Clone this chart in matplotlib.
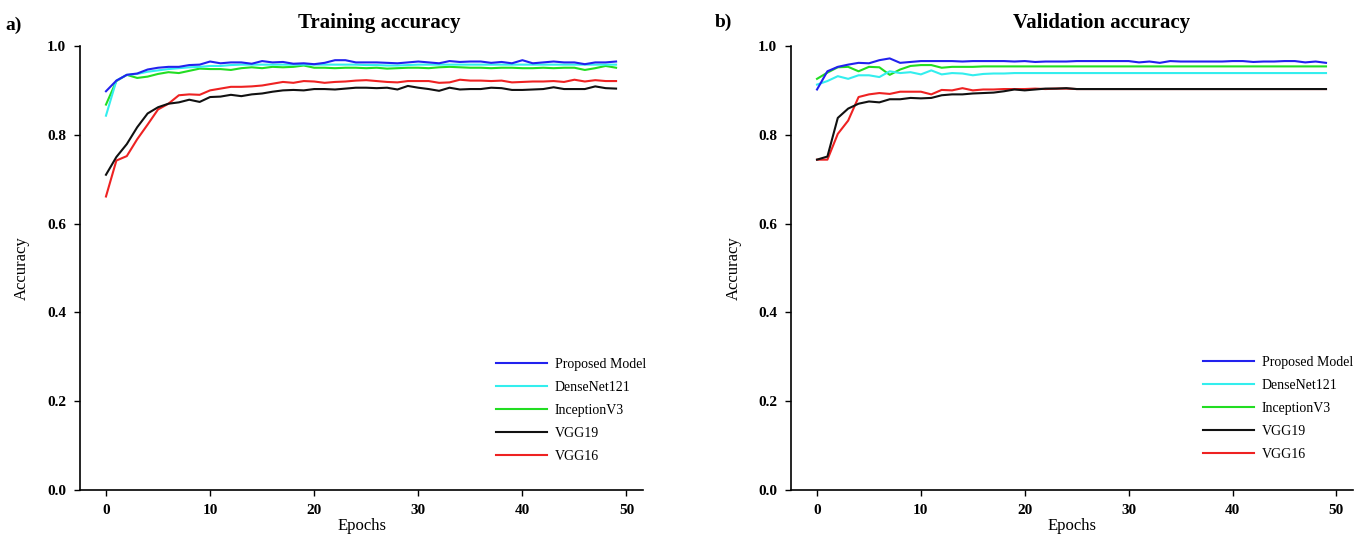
import numpy as np
import matplotlib
matplotlib.use("Agg")
import matplotlib.pyplot as plt

plt.rcParams["font.family"] = ["Liberation Serif", "DejaVu Serif"]

epochs = np.arange(50)

# ── training accuracy ────────────────────────────────────────────────────────
train_proposed = [0.898, 0.922, 0.935, 0.938, 0.947, 0.951, 0.953, 0.953, 0.957, 0.958,
                  0.965, 0.961, 0.963, 0.963, 0.960, 0.966, 0.963, 0.964, 0.960, 0.961,
                  0.959, 0.962, 0.968, 0.968, 0.963, 0.963, 0.963, 0.962, 0.961, 0.963,
                  0.965, 0.963, 0.961, 0.966, 0.964, 0.965, 0.965, 0.962, 0.964, 0.961,
                  0.968, 0.961, 0.963, 0.965, 0.963, 0.963, 0.959, 0.963, 0.963, 0.965]
train_densenet = [0.843, 0.922, 0.935, 0.937, 0.942, 0.945, 0.948, 0.950, 0.952, 0.953,
                  0.955, 0.955, 0.957, 0.958, 0.958, 0.958, 0.958, 0.958, 0.958, 0.958,
                  0.958, 0.958, 0.958, 0.958, 0.958, 0.957, 0.957, 0.956, 0.956, 0.957,
                  0.958, 0.958, 0.958, 0.958, 0.958, 0.958, 0.958, 0.958, 0.958, 0.958,
                  0.958, 0.958, 0.958, 0.958, 0.958, 0.958, 0.958, 0.958, 0.958, 0.958]
train_inception = [0.868, 0.921, 0.935, 0.928, 0.931, 0.937, 0.941, 0.939, 0.944, 0.949,
                   0.948, 0.948, 0.946, 0.950, 0.952, 0.950, 0.953, 0.952, 0.953, 0.956,
                   0.951, 0.951, 0.950, 0.951, 0.951, 0.950, 0.951, 0.949, 0.950, 0.951,
                   0.951, 0.950, 0.952, 0.953, 0.952, 0.951, 0.951, 0.950, 0.951, 0.951,
                   0.950, 0.950, 0.951, 0.950, 0.951, 0.951, 0.946, 0.950, 0.955, 0.951]
train_vgg19 = [0.710, 0.750, 0.779, 0.817, 0.848, 0.862, 0.870, 0.873, 0.879, 0.874,
               0.885, 0.886, 0.890, 0.887, 0.891, 0.893, 0.897, 0.900, 0.901, 0.900,
               0.903, 0.903, 0.902, 0.904, 0.906, 0.906, 0.905, 0.906, 0.902, 0.910,
               0.906, 0.903, 0.899, 0.906, 0.902, 0.903, 0.903, 0.906, 0.905, 0.901,
               0.901, 0.902, 0.903, 0.907, 0.903, 0.903, 0.903, 0.909, 0.905, 0.904]
train_vgg16 = [0.661, 0.742, 0.752, 0.790, 0.823, 0.857, 0.870, 0.889, 0.891, 0.890,
               0.900, 0.904, 0.908, 0.908, 0.909, 0.911, 0.915, 0.919, 0.917, 0.921,
               0.920, 0.917, 0.919, 0.920, 0.922, 0.923, 0.921, 0.919, 0.918, 0.921,
               0.921, 0.921, 0.917, 0.918, 0.924, 0.922, 0.922, 0.921, 0.922, 0.918,
               0.919, 0.920, 0.920, 0.921, 0.919, 0.924, 0.920, 0.923, 0.921, 0.921]

# ── validation accuracy ──────────────────────────────────────────────────────
val_proposed = [0.902, 0.943, 0.953, 0.958, 0.962, 0.961, 0.968, 0.972, 0.962, 0.964,
                0.966, 0.966, 0.966, 0.966, 0.965, 0.966, 0.966, 0.966, 0.966, 0.965,
                0.966, 0.964, 0.965, 0.965, 0.965, 0.966, 0.966, 0.966, 0.966, 0.966,
                0.966, 0.963, 0.965, 0.962, 0.966, 0.965, 0.965, 0.965, 0.965, 0.965,
                0.966, 0.966, 0.964, 0.965, 0.965, 0.966, 0.966, 0.963, 0.965, 0.962]
val_densenet = [0.913, 0.921, 0.932, 0.926, 0.934, 0.934, 0.930, 0.943, 0.939, 0.941,
                0.936, 0.945, 0.936, 0.939, 0.938, 0.934, 0.937, 0.938, 0.938, 0.939,
                0.939, 0.939, 0.939, 0.939, 0.939, 0.939, 0.939, 0.939, 0.939, 0.939,
                0.939, 0.939, 0.939, 0.939, 0.939, 0.939, 0.939, 0.939, 0.939, 0.939,
                0.939, 0.939, 0.939, 0.939, 0.939, 0.939, 0.939, 0.939, 0.939, 0.939]
val_inception = [0.926, 0.940, 0.952, 0.953, 0.943, 0.953, 0.952, 0.935, 0.947, 0.955,
                 0.957, 0.957, 0.951, 0.953, 0.953, 0.953, 0.954, 0.954, 0.954, 0.954,
                 0.954, 0.954, 0.954, 0.954, 0.954, 0.954, 0.954, 0.954, 0.954, 0.954,
                 0.954, 0.954, 0.954, 0.954, 0.954, 0.954, 0.954, 0.954, 0.954, 0.954,
                 0.954, 0.954, 0.954, 0.954, 0.954, 0.954, 0.954, 0.954, 0.954, 0.954]
val_vgg19 = [0.744, 0.751, 0.838, 0.859, 0.870, 0.875, 0.873, 0.880, 0.880, 0.883,
             0.882, 0.883, 0.889, 0.891, 0.891, 0.893, 0.894, 0.895, 0.898, 0.902,
             0.900, 0.902, 0.904, 0.904, 0.905, 0.903, 0.903, 0.903, 0.903, 0.903,
             0.903, 0.903, 0.903, 0.903, 0.903, 0.903, 0.903, 0.903, 0.903, 0.903,
             0.903, 0.903, 0.903, 0.903, 0.903, 0.903, 0.903, 0.903, 0.903, 0.903]
val_vgg16 = [0.744, 0.744, 0.802, 0.832, 0.885, 0.891, 0.894, 0.892, 0.897, 0.897,
             0.897, 0.891, 0.901, 0.900, 0.905, 0.900, 0.902, 0.902, 0.903, 0.903,
             0.903, 0.904, 0.903, 0.904, 0.904, 0.903, 0.903, 0.903, 0.903, 0.903,
             0.903, 0.903, 0.903, 0.903, 0.903, 0.903, 0.903, 0.903, 0.903, 0.903,
             0.903, 0.903, 0.903, 0.903, 0.903, 0.903, 0.903, 0.903, 0.903, 0.903]

labels = ["Proposed Model", "DenseNet121", "InceptionV3", "VGG19", "VGG16"]
colors = ["#2222ee", "#33eeee", "#22dd22", "#111111", "#ee2222"]

train = [train_proposed, train_densenet, train_inception, train_vgg19, train_vgg16]
val = [val_proposed, val_densenet, val_inception, val_vgg19, val_vgg16]

fig = plt.figure(figsize=(13.62, 5.34), dpi=100)
ax1 = fig.add_axes([0.0587, 0.0824, 0.4135, 0.8315])
ax2 = fig.add_axes([0.5808, 0.0824, 0.4126, 0.8315])


def draw(ax, series, title, title_x, leg_anchor):
    handles = []
    # draw bottom series first so the top models sit on top
    for k in range(4, -1, -1):
        h, = ax.plot(epochs, series[k], color=colors[k], lw=1.5, zorder=2 + (4 - k))
        handles.append(h)
    handles = handles[::-1]
    ax.set_xlim(-2.5, 51.6)
    ax.set_ylim(0, 1.0)
    ax.set_xticks([0, 10, 20, 30, 40, 50])
    ax.set_yticks([0.0, 0.2, 0.4, 0.6, 0.8, 1.0])
    ax.set_yticklabels(["0.0", "0.2", "0.4", "0.6", "0.8", "1.0"])
    for side in ("top", "right"):
        ax.spines[side].set_visible(False)
    for side in ("left", "bottom"):
        ax.spines[side].set_linewidth(1.2)
    ax.tick_params(length=4, width=1.0, labelsize=11, pad=6)
    for t in ax.get_xticklabels() + ax.get_yticklabels():
        t.set_fontweight("bold")
    ax.set_xlabel("Epochs", fontsize=12, labelpad=1)
    ax.set_ylabel("Accuracy", fontsize=12, labelpad=12)
    ax.set_title(title, fontsize=15, fontweight="bold", pad=13, x=title_x)
    ax.legend(handles, labels, loc="upper left", bbox_to_anchor=leg_anchor,
              frameon=False, fontsize=10, handlelength=3.7, handletextpad=0.55,
              labelspacing=0.72, borderpad=0)


draw(ax1, train, "Training accuracy", 0.531, (0.726, 0.313))
draw(ax2, val, "Validation accuracy", 0.552, (0.720, 0.317))

fig.text(0.004, 0.953, "a)", fontsize=14, fontweight="bold", va="center")
fig.text(0.525, 0.958, "b)", fontsize=14, fontweight="bold", va="center")

fig.savefig("out.png", dpi=100)
